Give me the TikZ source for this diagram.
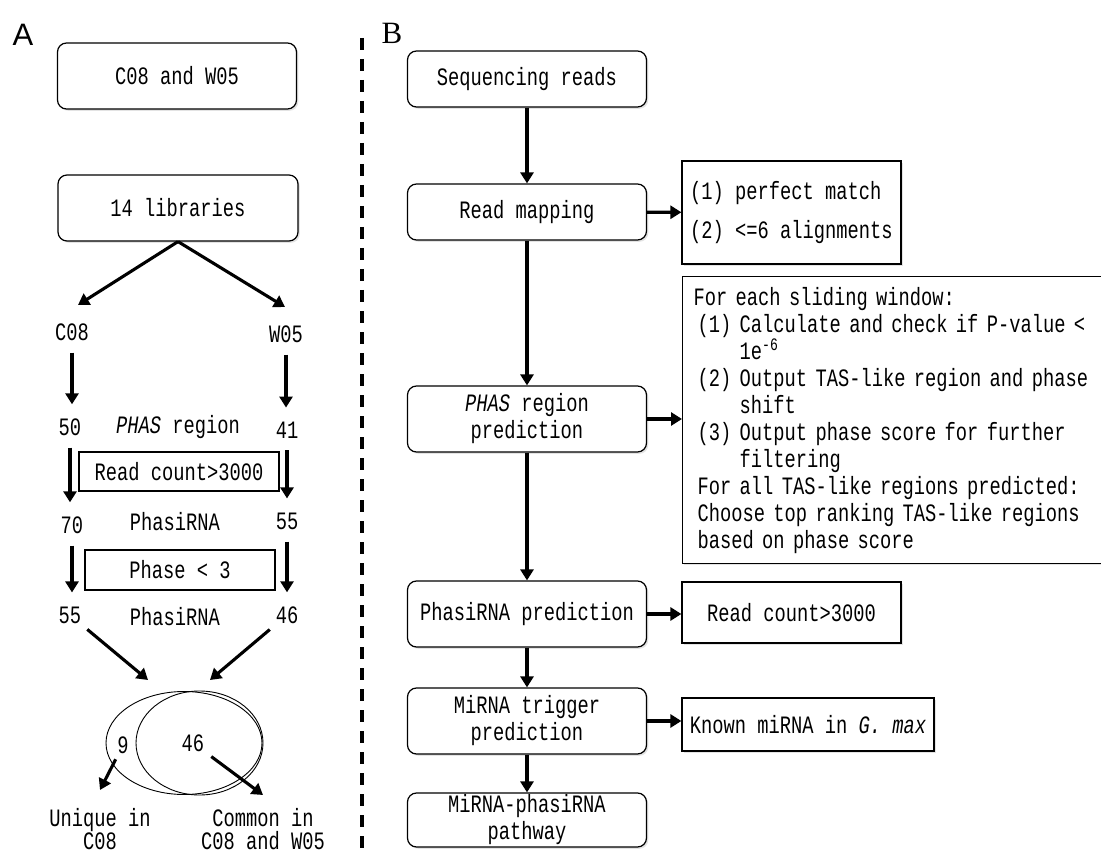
\documentclass[tikz,border=0pt]{standalone}
\usepackage{fontspec}
\setmainfont[FakeStretch=0.75]{Liberation Mono}
\newfontfamily\panelsans{Liberation Sans}
\newfontfamily\panelserif{Liberation Serif}
\usetikzlibrary{arrows.meta,positioning,shapes.geometric,shadows}

\tikzset{
  rbox/.style={draw, rounded corners=9pt, line width=1.2pt, fill=white, inner sep=2pt, align=center,
    drop shadow={shadow xshift=1.8pt, shadow yshift=-1.8pt, opacity=0.22}},
  sbox/.style={draw, line width=1.2pt, fill=white, inner sep=2pt,
    drop shadow={shadow xshift=1.8pt, shadow yshift=-1.8pt, opacity=0.22}},
  gate/.style={draw, line width=1.2pt, inner sep=2pt},
  lbl/.style={inner sep=2pt},
  arr/.style={line width=3.1pt, -{Triangle[length=11pt,width=13pt]}},
  colarr/.style={arr, shorten <=10pt, shorten >=12pt},
  setring/.style={draw, ellipse, line width=0.9pt, inner sep=0pt},
  divider/.style={line width=3.5pt, dash pattern=on 12pt off 9pt}
}

\begin{document}
\begin{tikzpicture}[x=1pt, y=-1pt, font=\fontsize{25}{27}\selectfont]
\clip (0,0) rectangle (1101,853);
\fill[white] (0,0) rectangle (1101,853);

% panel A
\node[font=\panelsans\fontsize{31}{32}\selectfont, inner sep=0pt] (tagA) at (23,35) {A};
\node[rbox, minimum width=239pt, minimum height=66pt] (src) at (177,76) {C08 and W05};
\node[rbox, minimum width=240pt, minimum height=66pt] (libs) at (178,208) {14 libraries};

\node[lbl] (c08) at (72,332) {C08};
\node[lbl] (w05) at (286,334) {W05};
\coordinate (c08in) at (78,305);
\coordinate (w05in) at (285,307);
\draw[arr] (libs.south) -- (c08in);
\draw[arr] (libs.south) -- (w05in);

\node[lbl] (n50) at (70,427) {50};
\node[lbl] (phasA) at (178,427) {\textit{PHAS} region};
\node[lbl] (n41) at (287,430) {41};
\node[gate, minimum width=200pt, minimum height=39pt] (countA) at (179,471.5) {Read count>3000};
\node[lbl] (n70) at (72,525) {70};
\node[lbl] (phasiA) at (175,522) {PhasiRNA};
\node[lbl] (n55) at (287,521) {55};
\node[gate, minimum width=190pt, minimum height=40pt] (phaseA) at (180,570) {Phase < 3};
\node[lbl] (m55) at (70,615) {55};
\node[lbl] (phasiB) at (175,617) {PhasiRNA};
\node[lbl] (m46) at (287,615) {46};

\draw[colarr] (c08.south) -- (c08.south |- n50.north);
\draw[colarr] (w05.south) -- (w05.south |- n41.north);
\draw[colarr] (n50.south) -- (n50.south |- n70.north);
\draw[colarr] (n41.south) -- (n41.south |- n55.north);
\draw[colarr] (n70.south) -- (n70.south |- m55.north);
\draw[colarr] (n55.south) -- (n55.south |- m46.north);

% venn
\coordinate (vinL) at (148,680);
\coordinate (vinR) at (210,680);
\draw[arr, shorten <=6pt] (m55) -- (vinL);
\draw[arr, shorten <=6pt] (m46) -- (vinR);
\node[setring, minimum width=156pt, minimum height=103pt] (setC) at (184,743) {};
\node[setring, minimum width=127pt, minimum height=104pt] (setW) at (199.5,743) {};
\node[lbl] (only) at (123,745) {9};
\node[lbl] (both) at (193,743) {46};
\node[lbl, align=center, font=\fontsize{25}{23}\selectfont] (uniq) at (100,829) {Unique in\\C08};
\node[lbl, align=center, font=\fontsize{25}{23}\selectfont] (common) at (263,829) {Common in\\C08 and W05};
\coordinate (uniqin) at (100,790);
\coordinate (commonin) at (263,795);
\draw[arr, shorten <=4pt] (only) -- (uniqin);
\draw[arr, shorten <=6pt] (both) -- (commonin);

% divider
\coordinate (divtop) at (362,38);
\coordinate (divbot) at (362,850);
\draw[divider] (divtop) -- (divbot);

% panel B
\node[font=\panelserif\fontsize{31}{32}\selectfont, inner sep=0pt] (tagB) at (392,33) {B};
\node[rbox, minimum width=239pt, minimum height=56pt] (reads) at (527,79) {Sequencing reads};
\node[rbox, minimum width=239pt, minimum height=56pt] (mapping) at (527,212) {Read mapping};
\node[rbox, minimum width=239pt, minimum height=66pt] (phasreg) at (527,419) {\textit{PHAS} region\\prediction};
\node[rbox, minimum width=239pt, minimum height=66pt] (phasipred) at (527,614) {PhasiRNA prediction};
\node[rbox, minimum width=239pt, minimum height=66pt] (trigger) at (527,721) {MiRNA trigger\\prediction};
\node[rbox, minimum width=239pt, minimum height=54pt, inner sep=0pt] (pathway) at (527,820) {MiRNA-phasiRNA\\pathway};

\node[sbox, minimum width=219pt, minimum height=103pt, align=left] (mapcrit) at (791.5,212.5)
  {(1) perfect match\\[12pt](2) <=6 alignments};
\node[sbox, anchor=north west, minimum height=287pt, text width=420pt, inner xsep=11pt, align=left]
  (phascrit) at (682,276) {For each sliding window:\\
  \hspace*{4pt}(1) Calculate and check if P-value <\\
  \hspace*{4pt}\phantom{(1) }1e\textsuperscript{-6}\\
  \hspace*{4pt}(2) Output TAS-like region and phase\\
  \hspace*{4pt}\phantom{(2) }shift\\
  \hspace*{4pt}(3) Output phase score for further\\
  \hspace*{4pt}\phantom{(3) }filtering\\
  \hspace*{4pt}For all TAS-like regions predicted:\\
  \hspace*{4pt}Choose top ranking TAS-like regions\\
  \hspace*{4pt}based on phase score};
\node[sbox, minimum width=219pt, minimum height=61pt] (readcnt) at (791.5,612.5) {Read count>3000};
\node[sbox, minimum width=252pt, minimum height=53pt] (known) at (808,724.5) {Known miRNA in \textit{G. max}};

\draw[arr] (reads) -- (mapping);
\draw[arr] (mapping) -- (phasreg);
\draw[arr] (phasreg) -- (phasipred);
\draw[arr] (phasipred) -- (trigger);
\draw[arr] (trigger) -- (pathway);
\draw[arr] (mapping) -- (mapcrit);
\draw[arr] (phasreg.east) -- (phasreg.east -| phascrit.west);
\draw[arr] (phasipred.east) -- (phasipred.east -| readcnt.west);
\draw[arr] (trigger.east) -- (trigger.east -| known.west);

\end{tikzpicture}
\end{document}
